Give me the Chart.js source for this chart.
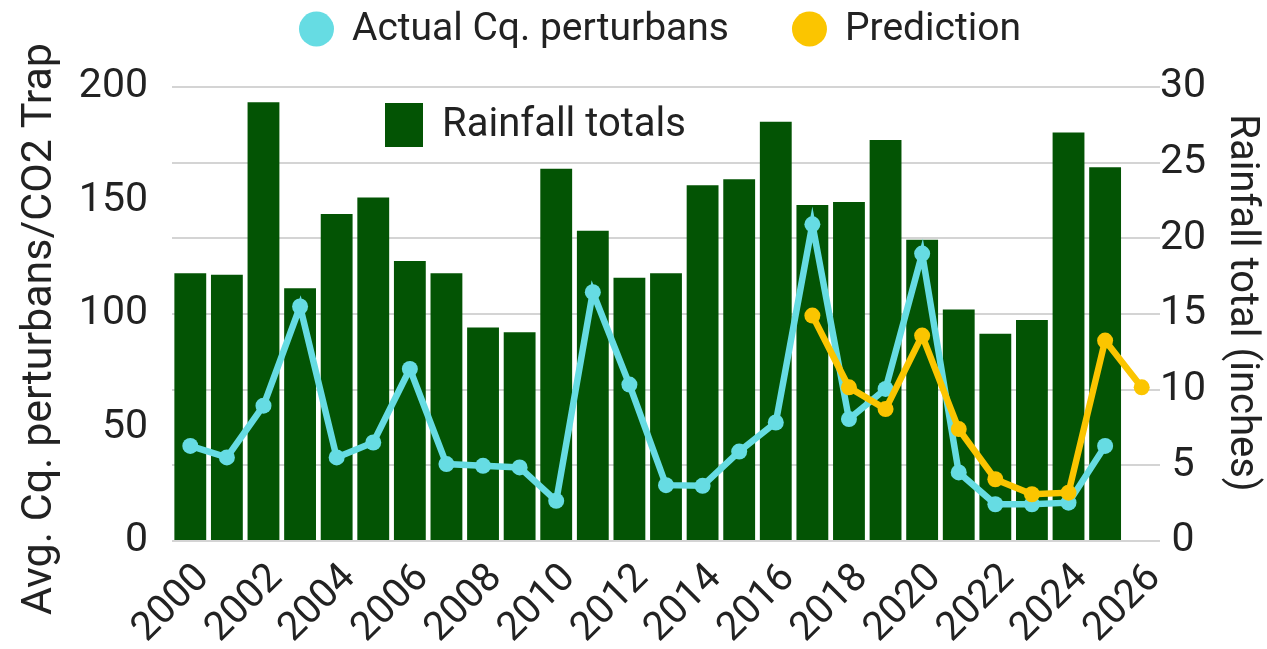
<!DOCTYPE html>
<html>
<head>
<meta charset="utf-8">
<script src="https://cdn.jsdelivr.net/npm/chart.js@4.4.1/dist/chart.umd.min.js"></script>
<style>
  html, body { margin: 0; padding: 0; background: #ffffff; }
  #wrap { width: 1267px; height: 649px; }
</style>
</head>
<body>
<div id="wrap"><canvas id="c" width="1267" height="649"></canvas></div>
<script>
// ---- Data ----
const years = ['2000','2001','2002','2003','2004','2005','2006','2007','2008','2009',
               '2010','2011','2012','2013','2014','2015','2016','2017','2018','2019',
               '2020','2021','2022','2023','2024','2025','2026'];
const rainfallTotals = [17.7, 17.6, 29.0, 16.7, 21.6, 22.7, 18.5, 17.7, 14.1, 13.8,
                        24.6, 20.5, 17.4, 17.7, 23.5, 23.9, 27.7, 22.2, 22.4, 26.5,
                        19.9, 15.3, 13.7, 14.6, 27.0, 24.7, null];
const actualCq = [41.9, 36.8, 59.6, 103.3, 36.8, 43.4, 75.8, 33.9, 33.1, 32.4,
                  17.7, 109.6, 68.9, 24.6, 24.3, 39.4, 52.2, 139.5, 53.7, 67.0,
                  126.6, 30.2, 16.2, 16.2, 16.9, 41.9, null];
const prediction = [null, null, null, null, null, null, null, null, null, null,
                    null, null, null, null, null, null, null, 99.3, 67.7, 58.1,
                    90.5, 49.3, 27.2, 20.6, 21.3, 88.3, 67.7];
const leftTicks = [0, 50, 100, 150, 200];
const rightTicks = [0, 5, 10, 15, 20, 25, 30];

const seriesNames = { actual: 'Actual Cq. perturbans', prediction: 'Prediction', rain: 'Rainfall totals' };
const axisTitles = { left: 'Avg. Cq. perturbans/CO2 Trap', right: 'Rainfall total (inches)' };

// ---- Styles ----
const GREEN = '#035404';
const CYAN = '#66dce3';
const YELLOW = '#fbc500';
const TEXT = '#222222';
const GRID = '#d4d4d4';
const FAMILY = 'Roboto, "Liberation Sans", Arial, sans-serif';

const legendPlugin = {
  id: 'customLegends',
  afterDraw(chart) {
    const ctx = chart.ctx;
    const area = chart.chartArea;
    ctx.save();
    // top legend (line series)
    ctx.font = '39px ' + FAMILY;
    ctx.textBaseline = 'middle';
    ctx.textAlign = 'left';
    const r = 17.5, gapText = 18, gapItem = 63;
    const items = [
      { text: seriesNames.actual, color: CYAN },
      { text: seriesNames.prediction, color: YELLOW }
    ];
    const widths = items.map(it => ctx.measureText(it.text).width);
    let total = 0;
    items.forEach((it, i) => { total += 2 * r + gapText + widths[i]; if (i < items.length - 1) total += gapItem; });
    let x = (area.left + area.right) / 2 - 6 - total / 2;
    const cy = 29;
    items.forEach((it, i) => {
      ctx.fillStyle = it.color;
      ctx.beginPath();
      ctx.arc(x + r, cy, r, 0, Math.PI * 2);
      ctx.fill();
      ctx.fillStyle = TEXT;
      ctx.fillText(it.text, x + 2 * r + gapText, cy + 1);
      x += 2 * r + gapText + widths[i] + gapItem;
    });
    // bar legend inside the plot
    const bx = area.left + 213, by = area.top + 16;
    ctx.fillStyle = GREEN;
    ctx.fillRect(bx, by, 38, 44);
    ctx.fillStyle = TEXT;
    ctx.font = '40px ' + FAMILY;
    ctx.fillText(seriesNames.rain, bx + 57, by + 23);
    ctx.restore();
  }
};

// shift the axis titles slightly along the axis, as in the reference
const titleShiftPlugin = {
  id: 'titleShift',
  beforeDraw(chart) {
    const shifts = { y: 15, y1: -11 };
    Object.keys(shifts).forEach(id => {
      const sc = chart.scales[id];
      if (sc && !sc._titleShifted) {
        const orig = sc.drawTitle.bind(sc);
        sc.drawTitle = function () {
          const c = this.ctx;
          c.save();
          c.translate(0, shifts[id]);
          orig();
          c.restore();
        };
        sc._titleShifted = true;
      }
    });
  }
};

const yTickFont = { family: FAMILY, size: 41 };
const xTickFont = { family: FAMILY, size: 40 };

new Chart(document.getElementById('c'), {
  data: {
    labels: years,
    datasets: [
      {
        type: 'line', label: seriesNames.actual, data: actualCq, yAxisID: 'y',
        borderColor: CYAN, backgroundColor: CYAN, borderWidth: 6.5,
        pointRadius: 8, pointBackgroundColor: CYAN, pointBorderWidth: 0,
        tension: 0, order: 1
      },
      {
        type: 'line', label: seriesNames.prediction, data: prediction, yAxisID: 'y',
        borderColor: YELLOW, backgroundColor: YELLOW, borderWidth: 6.5,
        pointRadius: 8, pointBackgroundColor: YELLOW, pointBorderWidth: 0,
        tension: 0, order: 0
      },
      {
        type: 'bar', label: seriesNames.rain, data: rainfallTotals, yAxisID: 'y1',
        backgroundColor: GREEN, borderWidth: 0,
        categoryPercentage: 1.0, barPercentage: 0.87, order: 2
      }
    ]
  },
  options: {
    responsive: false,
    animation: false,
    layout: { padding: { top: 87, left: 0, right: 0, bottom: 0 } },
    plugins: { legend: { display: false }, tooltip: { enabled: false } },
    scales: {
      x: {
        type: 'category',
        grid: { display: false, drawTicks: false },
        border: { display: false },
        ticks: {
          autoSkip: false, minRotation: 45, maxRotation: 45,
          font: xTickFont, color: TEXT, padding: 14, labelOffset: 13,
          callback: (v, i) => (i % 2 === 0 ? years[i] : '')
        },
        afterFit: s => { s.height = 108; }
      },
      y: {
        position: 'left', min: leftTicks[0], max: leftTicks[leftTicks.length - 1],
        afterBuildTicks: s => { s.ticks = leftTicks.map(v => ({ value: v })); },
        grid: { display: false, drawTicks: false },
        border: { display: false },
        ticks: { font: yTickFont, color: TEXT, padding: 24 },
        title: { display: true, text: axisTitles.left, font: { family: FAMILY, size: 43 }, color: TEXT, padding: { top: 14, bottom: 0 } },
        afterFit: s => { s.width = 172; }
      },
      y1: {
        position: 'right', min: rightTicks[0], max: rightTicks[rightTicks.length - 1],
        afterBuildTicks: s => { s.ticks = rightTicks.map(v => ({ value: v })); },
        grid: { color: GRID, lineWidth: 2, drawTicks: false },
        border: { display: false },
        ticks: { font: yTickFont, color: TEXT, padding: 0, crossAlign: 'center' },
        title: { display: true, text: axisTitles.right, font: { family: FAMILY, size: 40 }, color: TEXT, padding: { top: 2, bottom: 0 } },
        afterFit: s => { s.width = 107; }
      }
    }
  },
  plugins: [legendPlugin, titleShiftPlugin]
});
</script>
</body>
</html>
